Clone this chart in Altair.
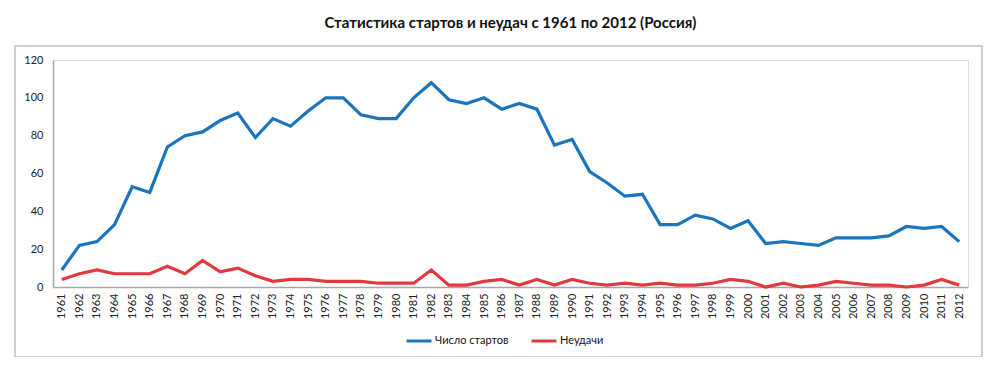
import altair as alt
import pandas as pd

years = list(range(1961, 2013))
launches = [9, 22, 24, 33, 53, 50, 74, 80, 82, 88, 92, 79, 89, 85, 93, 100, 100, 91, 89, 89,
            100, 108, 99, 97, 100, 94, 97, 94, 75, 78, 61, 55, 48, 49, 33, 33, 38, 36, 31, 35,
            23, 24, 23, 22, 26, 26, 26, 27, 32, 31, 32, 24]
failures = [4, 7, 9, 7, 7, 7, 11, 7, 14, 8, 10, 6, 3, 4, 4, 3, 3, 3, 2, 2,
            2, 9, 1, 1, 3, 4, 1, 4, 1, 4, 2, 1, 2, 1, 2, 1, 1, 2, 4, 3,
            0, 2, 0, 1, 3, 2, 1, 1, 0, 1, 4, 1]
series_names = ["Число стартов", "Неудачи"]
series_colors = ["#1C75BC", "#E0393E"]
title_text = "Статистика стартов и неудач с 1961 по 2012 (Россия)"

rows = []
for name, vals in zip(series_names, [launches, failures]):
    for y, v in zip(years, vals):
        rows.append({"year": str(y), "value": v, "series": name})
df = pd.DataFrame(rows)

FONT = "Lato"
W, H = 915, 227

lines = alt.Chart(df).mark_line(strokeWidth=3.2, strokeJoin="miter").encode(
    x=alt.X("year:O", title=None, scale=alt.Scale(type="point", padding=0.5),
            axis=alt.Axis(labelAngle=-90, labelAlign="right", labelBaseline="middle",
                          ticks=False, domainColor="#A6A6A6", domainWidth=1.5,
                          labelPadding=6, labelFontSize=11, labelColor="#222")),
    y=alt.Y("value:Q", title=None,
            scale=alt.Scale(domain=[0, 120], nice=False),
            axis=alt.Axis(values=[0, 20, 40, 60, 80, 100, 120], grid=False, ticks=False,
                          domainColor="#A6A6A6", domainWidth=1.5, labelPadding=10,
                          labelFontSize=11, labelColor="#222")),
    color=alt.Color("series:N", title=None,
                    scale=alt.Scale(domain=series_names, range=series_colors),
                    legend=alt.Legend(orient="none", legendX=352, legendY=267,
                                      direction="horizontal", symbolType="stroke",
                                      symbolSize=625, symbolStrokeWidth=3,
                                      labelFontSize=11, labelColor="#111",
                                      columnPadding=16, labelOffset=2)),
)

border = alt.Chart(pd.DataFrame({"a": [0]})).mark_rect(
    fill=None, stroke="#BFBFBF", strokeWidth=1.5
).encode(x=alt.value(-38), x2=alt.value(929), y=alt.value(-14), y2=alt.value(297))

chart = alt.layer(border, lines).properties(
    width=W, height=H,
    title=alt.Title(title_text, fontSize=15, font=FONT, fontWeight="bold",
                    color="#111", offset=14, anchor="middle"),
    autosize=alt.AutoSizeParams(type="none"),
    padding={"left": 45, "top": 52, "right": 24, "bottom": 70},
).configure_view(stroke=None).configure(font=FONT)

chart.save("out.html", embed_options={"renderer": "svg", "actions": False})
